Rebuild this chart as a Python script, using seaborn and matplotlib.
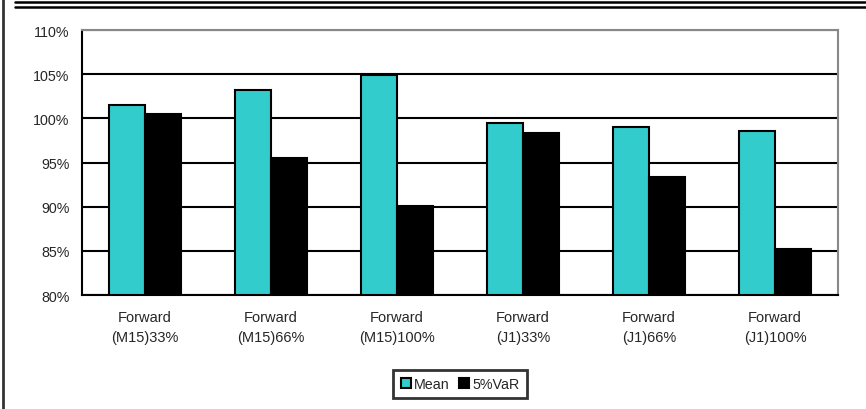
import numpy as np
import pandas as pd
import seaborn as sns
import matplotlib.pyplot as plt
from matplotlib.lines import Line2D
from matplotlib.ticker import FixedLocator

sns.set_style("white")
plt.rcParams['font.family'] = ['Liberation Sans', 'DejaVu Sans']

categories = ["Forward\n(M15)33%", "Forward\n(M15)66%", "Forward\n(M15)100%",
              "Forward\n(J1)33%", "Forward\n(J1)66%", "Forward\n(J1)100%"]
mean_vals = [101.5, 103.2, 104.9, 99.5, 99.0, 98.6]
var_vals = [100.5, 95.5, 90.1, 98.3, 93.4, 85.2]
series = ["Mean", "5%VaR"]
yticks = [80, 85, 90, 95, 100, 105, 110]

df = pd.DataFrame({
    "cat": categories * 2,
    "series": [series[0]] * 6 + [series[1]] * 6,
    "value": mean_vals + var_vals,
})

fig = plt.figure(figsize=(8.66, 4.10), dpi=100)
ax = fig.add_axes([0.0947, 0.278, 0.873, 0.646])

sns.barplot(data=df, x="cat", y="value", hue="series", ax=ax,
            palette={"Mean": "#33CCCC", "5%VaR": "black"},
            width=0.57, edgecolor="black", linewidth=1.5, saturation=1)

ax.set_ylim(80, 110)
ax.set_xlim(-0.5, 5.5)
ax.set_yticks(yticks)
ax.set_yticklabels([f"{t}%" for t in yticks], fontsize=10.3)
ax.set_xlabel("")
ax.set_ylabel("")
ax.tick_params(axis="x", length=0, labelsize=10.5, pad=11)
for lbl in ax.get_xticklabels():
    lbl.set_linespacing(1.5)
ax.tick_params(axis="y", length=4, width=1.5, direction="out", pad=5)
ax.xaxis.set_minor_locator(FixedLocator(np.arange(-0.5, 6, 1)))
ax.tick_params(axis="x", which="minor", length=4, width=1.5, direction="out")
ax.yaxis.grid(True, color="black", linewidth=1.5)
ax.set_axisbelow(True)

for side in ["left", "bottom"]:
    ax.spines[side].set_color("black")
    ax.spines[side].set_linewidth(1.5)
for side in ["top", "right"]:
    ax.spines[side].set_color("#888888")
    ax.spines[side].set_linewidth(1.5)

leg = ax.legend(loc="upper center", bbox_to_anchor=(0.5, -0.283), ncol=2,
                fontsize=10.3, frameon=True, fancybox=False, handlelength=0.7,
                handleheight=0.7, handletextpad=0.25, columnspacing=0.6,
                borderpad=0.5, borderaxespad=0)
leg.get_frame().set_edgecolor("black")
leg.get_frame().set_linewidth(2)

# outer frame decoration
fig.add_artist(Line2D([3 / 866, 3 / 866], [0, 1], color="#333333", lw=2))
fig.add_artist(Line2D([15 / 866, 1], [1 - 3 / 410, 1 - 3 / 410], color="black", lw=1.8))
fig.add_artist(Line2D([15 / 866, 1], [1 - 8 / 410, 1 - 8 / 410], color="black", lw=1.8))

fig.savefig("out.png", dpi=100)
